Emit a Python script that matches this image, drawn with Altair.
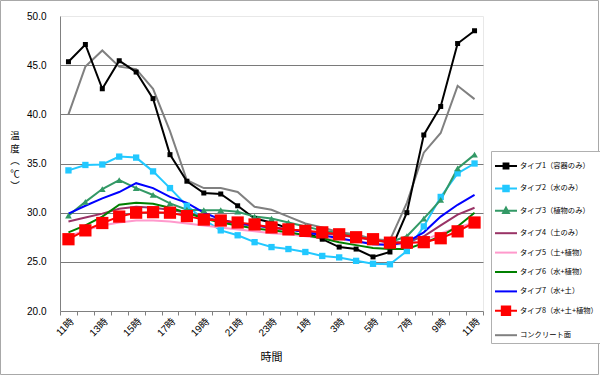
import json
import altair as alt
import pandas as pd

hours = ["11時", "12時", "13時", "14時", "15時", "16時", "17時", "18時", "19時",
         "20時", "21時", "22時", "23時", "0時", "1時", "2時", "3時", "4時", "5時",
         "6時", "7時", "8時", "9時", "10時", "11時"]

series_names = ["タイプ1（容器のみ）", "タイプ2（水のみ）", "タイプ3（植物のみ）",
                "タイプ4（土のみ）", "タイプ5（土+植物）", "タイプ6（水+植物）",
                "タイプ7（水+土）", "タイプ8（水+土+植物）", "コンクリート面"]
series_codes = ["s1", "s2", "s3", "s4", "s5", "s6", "s7", "s8", "s9"]
series_colors = ["#000000", "#22C8FF", "#339966", "#993366", "#FF99CC",
                 "#008000", "#0000FF", "#FF0000", "#808080"]

y_title_lines = ["温", "度", "︵", "℃", "︶"]

t1 = [45.35, 47.1, 42.6, 45.45, 44.3, 41.6, 35.9, 33.2, 32.0, 31.9, 30.7, 29.4, 29.0,
      28.4, 28.0, 27.3, 26.5, 26.3, 25.5, 26.0, 30.0, 37.9, 40.8, 47.2, 48.5]
t2 = [34.3, 34.85, 34.9, 35.7, 35.6, 34.2, 32.5, 30.7, 29.3, 28.2, 27.7, 27.0, 26.5,
      26.3, 26.0, 25.6, 25.45, 25.1, 24.8, 24.75, 26.1, 28.6, 31.6, 34.0, 35.0]
t3 = [29.7, 31.1, 32.4, 33.3, 32.5, 31.8, 30.95, 30.3, 30.25, 30.25, 30.1, 29.6, 29.4,
      29.0, 28.6, 28.2, 27.9, 27.6, 27.2, 27.0, 27.6, 29.4, 31.3, 34.5, 35.9]
t4 = [29.1, 29.5, 29.9, 30.4, 30.6, 30.5, 30.3, 30.0, 29.5, 29.2, 28.9, 28.7, 28.5,
      28.3, 28.1, 27.9, 27.7, 27.5, 27.2, 27.0, 27.0, 27.6, 28.7, 29.8, 30.5]
t5 = [27.6, 28.2, 28.7, 29.0, 29.2, 29.2, 29.1, 28.9, 28.7, 28.5, 28.3, 28.1, 27.9,
      27.8, 27.6, 27.4, 27.3, 27.1, 26.9, 26.8, 26.8, 27.2, 27.9, 28.5, 29.0]
t6 = [28.0, 28.7, 29.6, 30.8, 31.0, 30.9, 30.5, 30.0, 29.4, 29.0, 28.7, 28.4, 28.2,
      28.0, 27.7, 27.4, 27.0, 26.7, 26.4, 26.3, 26.3, 26.9, 27.6, 28.6, 30.0]
t7 = [29.9, 30.7, 31.45, 32.1, 33.0, 32.5, 31.6, 31.0, 30.0, 29.3, 28.9, 28.7, 28.5,
      28.3, 28.0, 27.7, 27.4, 27.1, 26.8, 26.7, 27.0, 28.0, 29.6, 30.8, 31.8]
t8 = [27.3, 28.2, 28.95, 29.6, 30.0, 30.05, 30.0, 29.65, 29.3, 29.2, 29.0, 28.8, 28.5,
      28.3, 28.15, 28.0, 27.8, 27.5, 27.3, 26.95, 26.95, 27.0, 27.4, 28.1, 29.0]
concrete = [40.0, 44.85, 46.5, 44.85, 44.6, 42.6, 38.3, 33.3, 32.5, 32.5, 32.1, 30.6, 30.3,
            29.6, 28.9, 28.5, 28.0, 27.8, 27.3, 27.2, 31.0, 36.1, 38.1, 42.9, 41.55]

all_values = [t1, t2, t3, t4, t5, t6, t7, t8, concrete]
draw_order = [8, 0, 1, 2, 3, 4, 5, 6, 7]

rows = []
for k in draw_order:
    for i, v in enumerate(all_values[k]):
        rows.append({"series": series_names[k], "code": series_codes[k], "idx": i, "value": v})
df = pd.DataFrame(rows)

# legend symbols (line with marker)
legend_paths = [
    "M-1,0H1M-0.22,-0.22H0.22V0.22H-0.22Z",
    "M-1,0H1M-0.25,-0.25H0.25V0.25H-0.25Z",
    "M-1,0H1M0,-0.28L0.26,0.2H-0.26Z",
    "M-1,0H1",
    "M-1,0H1",
    "M-1,0H1",
    "M-1,0H1",
    "M-1,0H1M-0.38,-0.38H0.38V0.38H-0.38Z",
    "M-1,0H1",
]

cjk = "'Noto Sans CJK JP'"
latin = "'Liberation Sans', 'Noto Sans CJK JP'"

color_scale = alt.Scale(domain=series_codes, range=series_colors)

label_expr = ("(datum.value % 2 == 0 && datum.value >= 0) ? "
              + json.dumps(hours, ensure_ascii=False) + "[datum.value] : ''")
tick_vals = [i * 0.5 - 0.5 for i in range(51)]

x_axis = alt.Axis(
    values=tick_vals, labelExpr=label_expr, labelAngle=-45, labelAlign="right",
    labelBaseline="top", labelOverlap=False, labelFlush=False, labelBound=False,
    labelFont=latin, labelFontSize=10, labelColor="#000000", labelPadding=1,
    tickOpacity={"condition": {"test": "datum.value % 1 != 0", "value": 1}, "value": 0},
    tickSize=4, tickColor="#808080", domainColor="#808080", grid=False,
    title="時間", titleFont=cjk, titleFontSize=11, titleFontWeight="normal",
    titleColor="#000000", titleBaseline="middle", titleY=46, titleX=211,
)
y_axis = alt.Axis(
    values=[20, 25, 30, 35, 40, 45, 50], format=".1f", ticks=False, labelPadding=14,
    labelFont=latin, labelFontSize=10, labelColor="#000000",
    domainColor="#808080", grid=True, gridColor="#7a7a7a",
    gridOpacity={"condition": {"test": "datum.value == 50 || datum.value == 20", "value": 0}, "value": 1},
    title=None,
)

x_enc = alt.X("idx:Q", scale=alt.Scale(domain=[-0.5, 24.5], nice=False, zero=False), axis=x_axis)
y_enc = alt.Y("value:Q", scale=alt.Scale(domain=[20, 50], nice=False, zero=False), axis=y_axis)

base = alt.Chart(df).encode(x=x_enc, y=y_enc)

lines = base.mark_line(strokeWidth=2).encode(
    color=alt.Color("code:N", scale=color_scale, legend=None),
    order=alt.Order("idx:Q"),
)

def markers(k, shape, size):
    return base.transform_filter(alt.datum.code == series_codes[k]).mark_point(
        shape=shape, size=size, filled=True, opacity=1
    ).encode(color=alt.Color("code:N", scale=color_scale, legend=None))

m1 = markers(0, "square", 25)
m2 = markers(1, "square", 40)
m3 = markers(2, "triangle-up", 45)
m8 = markers(7, "square", 150)

leg = dict(
    orient="none", legendX=431, legendY=135, direction="vertical", title=None,
    symbolSize=484, symbolStrokeWidth=2, labelFont=cjk, labelFontSize=7.3,
    labelColor="#000000", labelLimit=300, labelOffset=2, rowPadding=3.4,
    padding=3, strokeColor="#b0b0b0", fillColor="#ffffff", symbolOpacity=1,
)
legend_layer = alt.Chart(df).transform_filter("false").mark_point(
    filled=True, strokeWidth=2
).encode(
    fill=alt.Fill("series:N", scale=alt.Scale(domain=series_names, range=series_colors),
                  legend=alt.Legend(**leg)),
    stroke=alt.Stroke("series:N", scale=alt.Scale(domain=series_names, range=series_colors),
                      legend=alt.Legend(**leg)),
    shape=alt.Shape("series:N", scale=alt.Scale(domain=series_names, range=legend_paths),
                    legend=alt.Legend(**leg)),
)

one = pd.DataFrame({"a": [0]})
frame = alt.Chart(one).mark_rect(
    fill=None, stroke="#a8a8a8", strokeWidth=1
).encode(x=alt.value(-59.5), x2=alt.value(538.5), y=alt.value(-15.5), y2=alt.value(358.5))

y_title = alt.Chart(one).mark_text(
    font=cjk, fontSize=9.5, color="#000000", align="center", baseline="top", lineHeight=12.6
).encode(x=alt.value(-45), y=alt.value(115), text=alt.value(y_title_lines))

chart = alt.layer(frame, lines, m1, m2, m3, m8, legend_layer, y_title).properties(
    width=423, height=295,
    autosize=alt.AutoSizeParams(type="none"),
    padding={"left": 60, "top": 16, "right": 117, "bottom": 65},
    background="#ffffff",
).configure_view(
    fill="#c0c0c0", stroke="#e8e8e8", strokeWidth=1
)

chart.save("out.html", embed_options={"renderer": "svg", "actions": False})
